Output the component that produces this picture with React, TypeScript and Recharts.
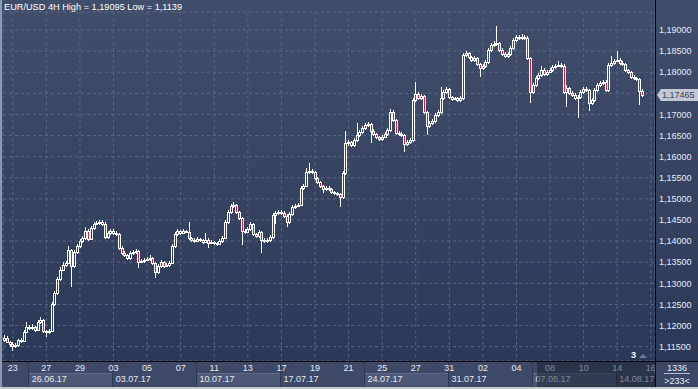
import React from "react";
import { Bar, CartesianGrid, ComposedChart, ReferenceLine, XAxis, YAxis } from "recharts";

const W = 698;
const H = 389;
const PLOT_LEFT = 3;
const PLOT_RIGHT = 655;
const PLOT_TOP = 12;
const PLOT_BOTTOM = 361;
const SLOTS = 233;
const SLOT_W = (PLOT_RIGHT - PLOT_LEFT) / SLOTS;
const FONT = '"Liberation Sans", Arial, sans-serif';
const TEXT = "#e4eaf4";
const RED = "#e3173e";

// 4H candles, [open, high, low, close] in 1/10000
const w0622 = [
  [11166, 11178, 11161, 11171], [11171, 11175, 11158, 11161], [11161, 11164, 11150, 11156],
  [11156, 11160, 11139, 11152], [11152, 11159, 11147, 11154], [11154, 11169, 11150, 11166],
  [11166, 11170, 11158, 11163], [11163, 11189, 11160, 11185], [11185, 11208, 11182, 11197],
];
const w0626 = [
  [11197, 11202, 11190, 11194], [11194, 11203, 11190, 11197], [11197, 11200, 11185, 11189],
  [11189, 11212, 11186, 11208], [11208, 11220, 11204, 11213], [11213, 11216, 11183, 11187],
  [11187, 11190, 11173, 11185], [11185, 11192, 11181, 11187], [11187, 11256, 11184, 11251],
  [11251, 11282, 11246, 11277], [11277, 11316, 11272, 11310], [11310, 11338, 11305, 11332],
  [11332, 11350, 11328, 11343], [11343, 11354, 11338, 11348], [11348, 11388, 11345, 11379],
  [11379, 11382, 11291, 11341], [11341, 11380, 11336, 11374], [11374, 11393, 11370, 11388],
  [11388, 11405, 11384, 11400], [11400, 11412, 11396, 11407], [11407, 11433, 11403, 11424],
  [11424, 11428, 11400, 11405], [11405, 11436, 11402, 11431], [11431, 11445, 11427, 11441],
  [11441, 11447, 11437, 11443], [11443, 11449, 11438, 11445], [11445, 11450, 11436, 11441],
  [11441, 11445, 11406, 11410], [11410, 11424, 11404, 11419], [11419, 11429, 11415, 11424],
];
const w0703 = [
  [11424, 11428, 11414, 11419], [11419, 11424, 11412, 11417], [11417, 11420, 11380, 11384],
  [11384, 11388, 11367, 11372], [11372, 11376, 11362, 11367], [11367, 11370, 11355, 11360],
  [11360, 11377, 11356, 11372], [11372, 11378, 11368, 11374], [11374, 11381, 11370, 11376],
  [11376, 11379, 11336, 11351], [11351, 11358, 11347, 11353], [11353, 11360, 11349, 11355],
  [11355, 11363, 11352, 11358], [11358, 11366, 11354, 11360], [11360, 11363, 11344, 11348],
  [11348, 11350, 11313, 11327], [11327, 11345, 11322, 11341], [11341, 11356, 11337, 11351],
  [11351, 11354, 11336, 11341], [11341, 11348, 11338, 11343], [11343, 11353, 11339, 11348],
  [11348, 11393, 11345, 11388], [11388, 11421, 11384, 11417], [11417, 11429, 11413, 11424],
  [11424, 11427, 11415, 11419], [11419, 11429, 11416, 11424], [11424, 11427, 11418, 11422],
  [11422, 11445, 11403, 11407], [11407, 11410, 11398, 11403], [11403, 11407, 11396, 11401],
];
const w0710 = [
  [11401, 11410, 11398, 11405], [11405, 11408, 11399, 11403], [11403, 11406, 11394, 11398],
  [11398, 11419, 11395, 11403], [11403, 11407, 11384, 11396], [11396, 11402, 11392, 11398],
  [11398, 11401, 11391, 11396], [11396, 11399, 11389, 11393], [11393, 11405, 11390, 11400],
  [11400, 11412, 11396, 11407], [11407, 11449, 11404, 11445], [11445, 11474, 11441, 11469],
  [11469, 11488, 11465, 11483], [11483, 11493, 11478, 11486], [11486, 11489, 11465, 11469],
  [11469, 11472, 11450, 11455], [11455, 11458, 11391, 11424], [11424, 11428, 11417, 11422],
  [11422, 11434, 11418, 11429], [11429, 11445, 11425, 11441], [11441, 11444, 11413, 11417],
  [11417, 11420, 11407, 11412], [11412, 11426, 11408, 11422], [11422, 11425, 11372, 11403],
  [11403, 11407, 11395, 11400], [11400, 11407, 11396, 11403], [11403, 11414, 11398, 11410],
  [11410, 11466, 11406, 11462], [11462, 11471, 11440, 11467], [11467, 11474, 11462, 11469],
];
const w0717 = [
  [11469, 11473, 11462, 11467], [11467, 11471, 11455, 11460], [11460, 11463, 11433, 11445],
  [11445, 11468, 11441, 11464], [11464, 11485, 11460, 11481], [11481, 11488, 11477, 11483],
  [11483, 11490, 11480, 11486], [11486, 11530, 11482, 11526], [11526, 11536, 11522, 11531],
  [11531, 11573, 11527, 11564], [11564, 11585, 11560, 11566], [11566, 11570, 11559, 11564],
  [11564, 11567, 11545, 11549], [11549, 11552, 11535, 11540], [11540, 11543, 11526, 11531],
  [11531, 11534, 11514, 11523], [11523, 11530, 11519, 11526], [11526, 11530, 11519, 11523],
  [11523, 11526, 11512, 11516], [11516, 11519, 11509, 11514], [11514, 11517, 11507, 11512],
  [11512, 11515, 11481, 11504], [11504, 11566, 11500, 11561], [11561, 11661, 11556, 11632],
  [11632, 11640, 11626, 11634], [11634, 11638, 11622, 11628], [11628, 11644, 11624, 11639],
  [11639, 11680, 11635, 11651], [11651, 11663, 11647, 11658], [11658, 11673, 11654, 11668],
];
const w0724 = [
  [11668, 11680, 11664, 11675], [11675, 11683, 11671, 11677], [11677, 11680, 11632, 11661],
  [11661, 11665, 11649, 11654], [11654, 11657, 11642, 11647], [11647, 11650, 11637, 11642],
  [11642, 11651, 11637, 11647], [11647, 11658, 11643, 11654], [11654, 11668, 11650, 11663],
  [11663, 11713, 11659, 11706], [11706, 11710, 11683, 11687], [11687, 11690, 11651, 11656],
  [11656, 11660, 11649, 11654], [11654, 11658, 11646, 11651], [11651, 11654, 11611, 11630],
  [11630, 11640, 11626, 11635], [11635, 11644, 11630, 11639], [11639, 11738, 11635, 11734],
  [11734, 11777, 11730, 11748], [11748, 11752, 11735, 11739], [11739, 11749, 11735, 11744],
  [11744, 11747, 11702, 11706], [11706, 11709, 11651, 11673], [11673, 11685, 11668, 11680],
  [11680, 11689, 11676, 11684], [11684, 11703, 11680, 11699], [11699, 11711, 11695, 11706],
  [11706, 11765, 11702, 11739], [11739, 11758, 11735, 11753], [11753, 11765, 11749, 11760],
];
const w0731 = [
  [11760, 11763, 11737, 11741], [11741, 11744, 11732, 11737], [11737, 11742, 11733, 11738],
  [11738, 11741, 11730, 11734], [11734, 11743, 11730, 11739], [11739, 11846, 11735, 11841],
  [11841, 11851, 11836, 11846], [11846, 11849, 11832, 11836], [11836, 11839, 11825, 11829],
  [11829, 11839, 11825, 11834], [11834, 11837, 11815, 11819], [11819, 11822, 11789, 11810],
  [11810, 11820, 11806, 11815], [11815, 11829, 11811, 11824], [11824, 11858, 11820, 11853],
  [11853, 11869, 11849, 11864], [11864, 11873, 11860, 11867], [11867, 11910, 11862, 11869],
  [11869, 11872, 11849, 11853], [11853, 11857, 11838, 11843], [11843, 11847, 11833, 11838],
  [11838, 11848, 11834, 11843], [11843, 11861, 11839, 11857], [11857, 11881, 11852, 11876],
  [11876, 11888, 11872, 11883], [11883, 11887, 11876, 11881], [11881, 11890, 11877, 11883],
  [11883, 11888, 11876, 11881], [11881, 11886, 11829, 11834], [11834, 11837, 11727, 11753],
];
const w0807 = [
  [11753, 11775, 11748, 11770], [11770, 11790, 11765, 11786], [11786, 11798, 11782, 11793],
  [11793, 11815, 11789, 11805], [11805, 11809, 11792, 11796], [11796, 11806, 11792, 11801],
  [11801, 11810, 11797, 11805], [11805, 11817, 11801, 11812], [11812, 11820, 11808, 11815],
  [11815, 11827, 11812, 11817], [11817, 11822, 11810, 11815], [11815, 11819, 11748, 11753],
  [11753, 11770, 11718, 11763], [11763, 11766, 11746, 11751], [11751, 11755, 11741, 11746],
  [11746, 11750, 11734, 11739], [11739, 11746, 11692, 11741], [11741, 11758, 11737, 11753],
  [11753, 11765, 11749, 11760], [11760, 11765, 11753, 11758], [11758, 11761, 11708, 11727],
  [11727, 11739, 11722, 11734], [11734, 11763, 11730, 11758], [11758, 11775, 11754, 11770],
  [11770, 11779, 11766, 11774], [11774, 11782, 11770, 11777], [11777, 11781, 11753, 11758],
  [11758, 11822, 11753, 11817], [11817, 11838, 11813, 11822], [11822, 11832, 11818, 11827],
];
const w0814 = [
  [11827, 11850, 11824, 11829], [11829, 11833, 11818, 11822], [11822, 11826, 11814, 11819],
  [11819, 11822, 11800, 11805], [11805, 11808, 11796, 11801], [11801, 11804, 11784, 11789],
  [11789, 11793, 11782, 11786], [11786, 11789, 11779, 11784], [11784, 11787, 11722, 11756],
  [11756, 11760, 11742, 11746.5],
];

const dayTicks = [3, 15, 27, 39, 51, 63, 75, 87, 99, 111, 123, 135, 147, 159, 171, 183, 195, 207, 219, 231];
const dayLabels = ["23", "27", "29", "03", "05", "07", "11", "13", "17", "19", "21", "25", "27", "31", "02", "04", "08", "10", "14", "16"];
const weekStarts = [9, 39, 69, 99, 129, 159, 189, 219];
const weekLabels = ["26.06.17", "03.07.17", "10.07.17", "17.07.17", "24.07.17", "31.07.17", "07.08.17", "14.08.17"];
const priceTicks = [1.115, 1.12, 1.125, 1.13, 1.135, 1.14, 1.145, 1.15, 1.155, 1.16, 1.165, 1.17, 1.175, 1.18, 1.185, 1.19];
const priceDomain = [1.1116, 1.19426];
const futureStart = 191; // first slot shaded in the date bar

const candles = [w0622, w0626, w0703, w0710, w0717, w0724, w0731, w0807, w0814].flat();
const lastClose = candles[candles.length - 1][3] / 10000;

const chartData = Array.from({ length: SLOTS }, (_, i) => {
  const c = candles[i];
  return c ? { i, o: c[0] / 10000, h: c[1] / 10000, l: c[2] / 10000, c: c[3] / 10000 } : { i };
});

const fmtPrice = (v: number) => v.toFixed(5).replace(".", ",");

function Candle(props: any) {
  const { x, y, width, height, payload } = props;
  if (payload == null || payload.h == null || !isFinite(y) || !isFinite(height)) return null;
  const yHi = Math.min(y, y + height);
  const yLo = Math.max(y, y + height);
  const ppu = (yLo - yHi) / (payload.h - payload.l);
  const cx = Math.round(x + width / 2 - 0.5);
  const bodyTop = Math.round(yHi + (payload.h - Math.max(payload.o, payload.c)) * ppu);
  const bodyBot = Math.round(yHi + (payload.h - Math.min(payload.o, payload.c)) * ppu);
  const down = payload.c < payload.o;
  return (
    <g shapeRendering="crispEdges">
      <line x1={cx + 0.5} x2={cx + 0.5} y1={Math.round(yHi)} y2={bodyTop} stroke="#fff" />
      <line x1={cx + 0.5} x2={cx + 0.5} y1={bodyBot} y2={Math.round(yLo)} stroke="#fff" />
      <rect
        x={cx - 0.5}
        y={bodyTop + 0.5}
        width={2}
        height={Math.max(bodyBot - bodyTop, 1)}
        fill={down ? RED : "none"}
        stroke="#fff"
      />
    </g>
  );
}

function PriceTick(props: any) {
  const { x, y, payload } = props;
  if (Math.abs(payload.value - lastClose) < 0.002) return null;
  return (
    <text x={x} y={y} dy="0.355em" fontSize={9} fill={TEXT} fontFamily={FONT}>
      {fmtPrice(payload.value)}
    </text>
  );
}

function WeekTick(props: any) {
  const { x, y, payload } = props;
  const idx = weekStarts.indexOf(payload.value);
  return (
    <text x={x - SLOT_W / 2 + 3.5} y={y + 9} fontSize={9} fill={TEXT} fontFamily={FONT}>
      {weekLabels[idx]}
    </text>
  );
}

function PriceTag(props: any) {
  const vb = props.viewBox || {};
  const x0 = vb.x + vb.width + 2;
  const yc = Math.round(vb.y);
  return (
    <g>
      <polygon points={`${x0},${yc} ${x0 + 4},${yc - 6} ${x0 + 4},${yc + 6}`} fill="#c3c8d2" />
      <rect x={x0 + 4} y={yc - 6} width={37} height={12} fill="#c3c8d2" />
      <text x={x0 + 5} y={yc} dy="0.355em" fontSize={9} fill="#36445f" fontFamily={FONT}>
        {fmtPrice(lastClose)}
      </text>
    </g>
  );
}

function weekBlockLeft(slot: number) {
  return PLOT_LEFT + slot * SLOT_W;
}

export default function App() {
  return (
    <div style={{ position: "absolute", left: 0, top: 0, width: W, height: H, overflow: "hidden", fontFamily: FONT, background: "#2b3958" }}>
      {/* background of plot and price scale */}
      <div style={{ position: "absolute", left: 0, top: 0, width: W, height: PLOT_BOTTOM, background: "linear-gradient(#414e6b, #2b3958)" }} />
      {/* date bar */}
      <div style={{ position: "absolute", left: 0, top: PLOT_BOTTOM + 1, width: W, height: 25, background: "#3d4966" }} />
      {weekStarts.map((s, i) =>
        i % 2 === 0 ? (
          <div
            key={s}
            style={{
              position: "absolute",
              left: weekBlockLeft(s),
              top: 373,
              width: 30 * SLOT_W,
              height: 13,
              background: "#4c5876",
              borderTop: "1px solid #5f6a86",
              boxSizing: "border-box",
            }}
          />
        ) : null
      )}
      {weekStarts.map((s) => (
        <div key={"sep" + s} style={{ position: "absolute", left: Math.round(weekBlockLeft(s)), top: PLOT_BOTTOM + 1, width: 1, height: 25, background: "#2c3650" }} />
      ))}

      <ComposedChart
        width={W}
        height={H}
        data={chartData}
        margin={{ top: PLOT_TOP, right: 0, bottom: 2, left: PLOT_LEFT }}
        barCategoryGap={0}
        barGap={0}
        style={{ position: "absolute", left: 0, top: 0 }}
      >
        <CartesianGrid stroke="#5a6784" strokeDasharray="3 3" />
        <XAxis
          dataKey="i"
          type="category"
          ticks={dayTicks}
          interval={0}
          height={12}
          axisLine={false}
          tickLine={false}
          tickSize={0}
          tickMargin={4}
          tickFormatter={(v) => dayLabels[dayTicks.indexOf(v)]}
          tick={{ fill: TEXT, fontSize: 9, fontFamily: FONT }}
        />
        <XAxis
          xAxisId="week"
          dataKey="i"
          type="category"
          ticks={weekStarts}
          interval={0}
          height={14}
          axisLine={false}
          tickLine={false}
          tickSize={0}
          tickMargin={0}
          tick={<WeekTick />}
        />
        <YAxis
          orientation="right"
          type="number"
          domain={priceDomain}
          allowDataOverflow
          ticks={priceTicks}
          interval={0}
          width={W - PLOT_RIGHT}
          axisLine={false}
          tickLine={false}
          tickSize={0}
          tickMargin={4}
          tick={<PriceTick />}
        />
        <Bar
          dataKey={(d: any) => (d.h == null ? null : [d.l, d.h])}
          shape={(p: any) => <Candle {...p} />}
          isAnimationActive={false}
        />
        <ReferenceLine y={lastClose} stroke="none" ifOverflow="visible" label={<PriceTag />} />
      </ComposedChart>

      {/* shaded part of the date bar */}
      <div style={{ position: "absolute", left: weekBlockLeft(futureStart), top: PLOT_BOTTOM + 1, width: PLOT_RIGHT - weekBlockLeft(futureStart), height: 25, background: "rgba(22,29,46,0.5)" }} />
      {/* price scale corner */}
      <div style={{ position: "absolute", left: PLOT_RIGHT + 1, top: PLOT_BOTTOM + 1, width: W - PLOT_RIGHT - 1, height: 25, background: "#3b4764", color: TEXT, fontSize: 9, textAlign: "center" }}>
        <div style={{ lineHeight: "10px", marginTop: 1 }}>1336</div>
        <div style={{ margin: "0 8px", borderTop: "1px solid #b9c1d0" }} />
        <div style={{ lineHeight: "11px", marginTop: 2 }}>{">233<"}</div>
      </div>
      {/* frame lines */}
      <div style={{ position: "absolute", left: PLOT_RIGHT, top: 0, width: 1, height: 387, background: "#05070c" }} />
      <div style={{ position: "absolute", left: 0, top: PLOT_BOTTOM, width: W, height: 1, background: "#05070c" }} />
      <div style={{ position: "absolute", left: 0, top: 0, width: 2, height: H, background: "#8d99b0" }} />
      <div style={{ position: "absolute", left: 0, top: 387, width: W, height: 2, background: "#c4c8cf" }} />
      {/* header */}
      <div style={{ position: "absolute", left: 4, top: 1, color: "#ffffff", fontSize: 9.2, lineHeight: "12px", whiteSpace: "nowrap" }}>
        EUR/USD 4H High = 1,19095 Low = 1,1139
      </div>
      {/* bars-to-right marker */}
      <div style={{ position: "absolute", left: 631, top: 350, color: "#ffffff", fontSize: 9, fontWeight: "bold", lineHeight: "10px" }}>3</div>
      <div style={{ position: "absolute", left: 639, top: 354, width: 0, height: 0, borderLeft: "4px solid transparent", borderRight: "4px solid transparent", borderBottom: "4px solid #6f7b96" }} />
    </div>
  );
}
